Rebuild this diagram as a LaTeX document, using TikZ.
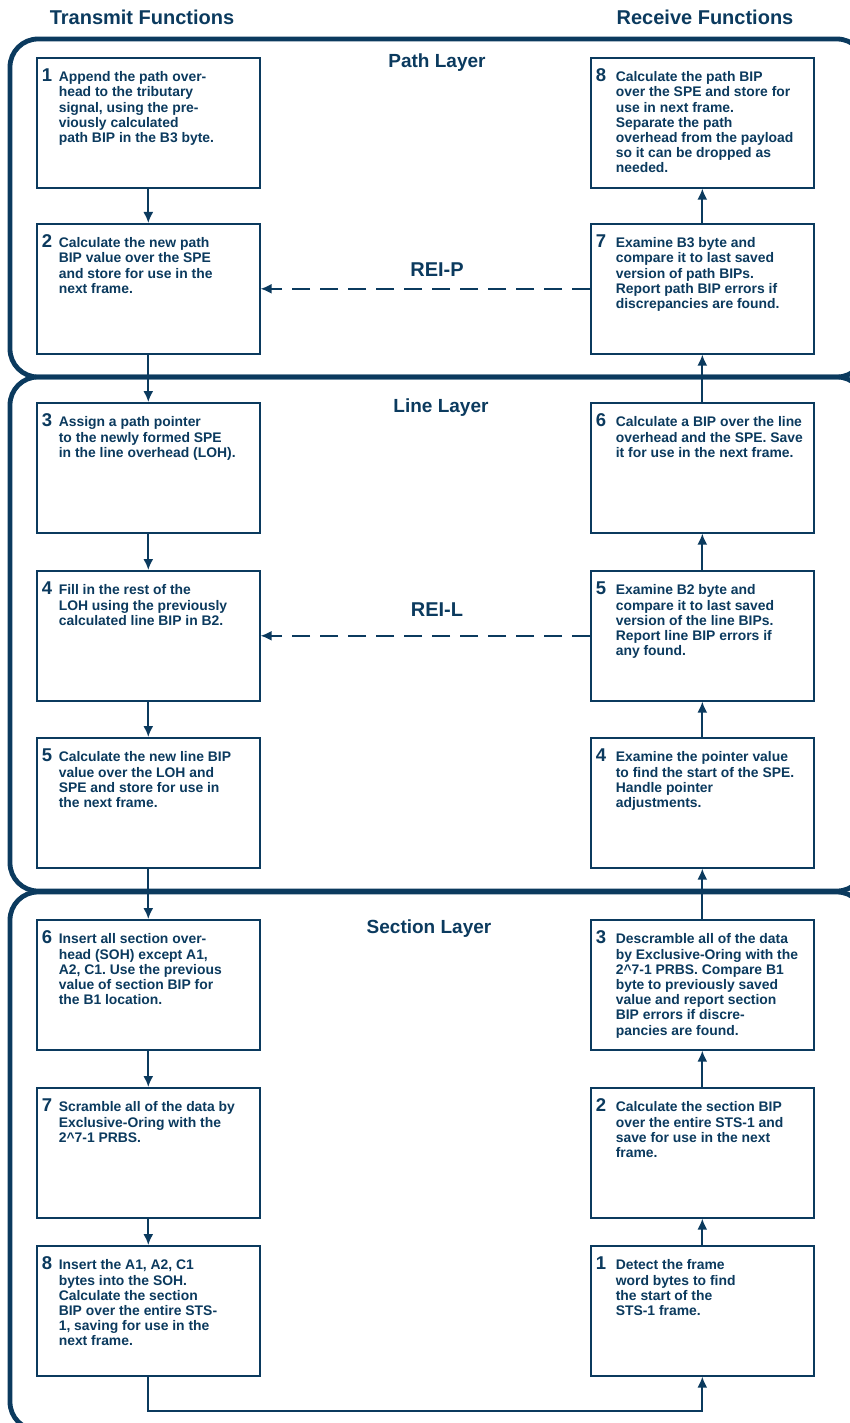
\documentclass[tikz,border=0pt]{standalone}
\usepackage{fontspec}
\setmainfont{Liberation Sans}
\usepackage{xcolor}
\usepackage{tikz}
\usetikzlibrary{arrows.meta}
\frenchspacing

\definecolor{sonetblue}{HTML}{0B3A5E}
\newcommand{\stepnum}[1]{{\fontsize{18.5}{18}\selectfont #1}}
\newcommand{\steptext}[3][17pt]{\makebox[213pt][l]{\makebox[#1][l]{\stepnum{#2}}\begin{tabular}[t]{@{}l@{}}#3\end{tabular}}}

\begin{document}
\begin{tikzpicture}[x=1pt, y=-1pt,
    layer/.style={draw=sonetblue, line width=4.8pt, rounded corners=28pt},
    stepbox/.style={draw=sonetblue, line width=1.6pt, fill=white, anchor=north west,
        minimum width=223pt, inner xsep=5pt, inner ysep=0pt, text height=24pt, text depth=106pt,
        text=sonetblue, font=\fontsize{13.9}{15.2}\selectfont\bfseries},
    flow/.style={draw=sonetblue, line width=1.8pt, -{Latex[length=11pt,width=10pt]}},
    title/.style={text=sonetblue, font=\fontsize{19}{19}\selectfont\bfseries},
    head/.style={text=sonetblue, font=\fontsize{20}{20}\selectfont\bfseries}]
                \clip (0,0) rectangle (850,1423);

                % layer frames
                \draw[layer] (10,39) rectangle (865,377);
                \draw[layer] (10,377) rectangle (865,891);
                \draw[layer] (10,892) rectangle (865,1430);

                \node[head] (tx) at (142,17) {Transmit Functions};
                \node[head] (rx) at (705,17) {Receive Functions};
                \node[title] (pathlayer) at (437,63) {Path Layer};
                \node[title] (linelayer) at (441,408) {Line Layer};
                \node[title] (seclayer) at (429,929) {Section Layer};

                % transmit side
                \node[stepbox] (l1) at (36,57) {\steptext{1}{Append the path over-\\head to the tributary\\signal, using the pre-\\viously calculated\\path BIP in the B3 byte.}};
                \node[stepbox] (l2) at (36,223) {\steptext{2}{Calculate the new path\\BIP value over the SPE\\and store for use in the\\next frame.}};
                \node[stepbox] (l3) at (36,402) {\steptext{3}{Assign a path pointer\\to the newly formed SPE\\in the line overhead (LOH).}};
                \node[stepbox] (l4) at (36,570) {\steptext{4}{Fill in the rest of the\\LOH using the previously\\calculated line BIP in B2.}};
                \node[stepbox] (l5) at (36,737) {\steptext{5}{Calculate the new line BIP\\value over the LOH and\\SPE and store for use in\\the next frame.}};
                \node[stepbox] (l6) at (36,919) {\steptext{6}{Insert all section over-\\head (SOH) except A1,\\A2, C1. Use the previous\\value of section BIP for\\the B1 location.}};
                \node[stepbox] (l7) at (36,1087) {\steptext{7}{Scramble all of the data by\\Exclusive-Oring with the\\2\textasciicircum 7-1 PRBS.}};
                \node[stepbox] (l8) at (36,1245) {\steptext{8}{Insert the A1, A2, C1\\bytes into the SOH.\\Calculate the section\\BIP over the entire STS-\\1, saving for use in the\\next frame.}};

                % receive side
                \node[stepbox] (r8) at (590,57) {\steptext[20pt]{8}{Calculate the path BIP\\over the SPE and store for\\use in next frame.\\Separate the path\\overhead from the payload\\so it can be dropped as\\needed.}};
                \node[stepbox] (r7) at (590,223) {\steptext[20pt]{7}{Examine B3 byte and\\compare it to last saved\\version of path BIPs.\\Report path BIP errors if\\discrepancies are found.}};
                \node[stepbox] (r6) at (590,402) {\steptext[20pt]{6}{Calculate a BIP over the line\\overhead and the SPE. Save\\it for use in the next frame.}};
                \node[stepbox] (r5) at (590,570) {\steptext[20pt]{5}{Examine B2 byte and\\compare it to last saved\\version of the line BIPs.\\Report line BIP errors if\\any found.}};
                \node[stepbox] (r4) at (590,737) {\steptext[20pt]{4}{Examine the pointer value\\to find the start of the SPE.\\Handle pointer\\adjustments.}};
                \node[stepbox] (r3) at (590,919) {\steptext[20pt]{3}{Descramble all of the data\\by Exclusive-Oring with the\\2\textasciicircum 7-1 PRBS. Compare B1\\byte to previously saved\\value and report section\\BIP errors if discre-\\pancies are found.}};
                \node[stepbox] (r2) at (590,1087) {\steptext[20pt]{2}{Calculate the section BIP\\over the entire STS-1 and\\save for use in the next\\frame.}};
                \node[stepbox] (r1) at (590,1245) {\steptext[20pt]{1}{Detect the frame\\word bytes to find\\the start of the\\STS-1 frame.}};

                \draw[flow] (l1) -- (l2);
                \draw[flow] (l2) -- (l3);
                \draw[flow] (l3) -- (l4);
                \draw[flow] (l4) -- (l5);
                \draw[flow] (l5) -- (l6);
                \draw[flow] (l6) -- (l7);
                \draw[flow] (l7) -- (l8);
                \draw[flow] (l8.south) -- ++(0,34) -| (r1.south);
                \draw[flow] (r1) -- (r2);
                \draw[flow] (r2) -- (r3);
                \draw[flow] (r3) -- (r4);
                \draw[flow] (r4) -- (r5);
                \draw[flow] (r5) -- (r6);
                \draw[flow] (r6) -- (r7);
                \draw[flow] (r7) -- (r8);

                % remote error indications
                \draw[flow, dash pattern=on 18pt off 10pt] (r7.west) -- (l2.east);
                \draw[flow, dash pattern=on 18pt off 10pt] (r5.west) -- (l4.east);
                \node[head] (reip) at (437,270) {REI-P};
                \node[head] (reil) at (437,610) {REI-L};
            \end{tikzpicture}
\end{document}
